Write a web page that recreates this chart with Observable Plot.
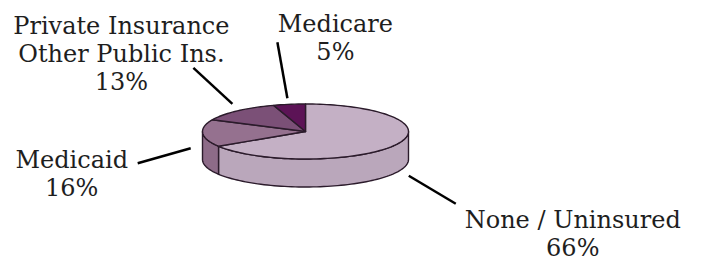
<!DOCTYPE html>
<html><head><meta charset="utf-8">
<script src="https://cdn.jsdelivr.net/npm/d3@7"></script>
<script src="https://cdn.jsdelivr.net/npm/@observablehq/plot@0.6"></script>
<style>
body{margin:0;background:#fff;}
#chart svg{display:block;}
</style>
</head><body><div id="chart"></div>
<script>
// ---- data ----
const categories = ["None / Uninsured", "Medicaid", "Private Insurance\nOther Public Ins.", "Medicare"];
const values = [66, 16, 13, 5];
const valueLabels = ["66%", "16%", "13%", "5%"];

// ---- style / layout (kept separate from data) ----
const topColors = ["#c4b0c5", "#95718f", "#7b5077", "#5c1356"];
const W = 702, H = 263;
const pie = {cx: 305, cy: 131, rx: 103, ry: 27.5, depth: 28};
// leader offsets relative to the rim point at each slice's mid angle: [from, to, label]
const leaderLayout = [
  {from: [13, 31], to: [60, 59], label: [177, 111]},
  {from: [-12, 15], to: [-65, 30], label: [-131, 63]},
  {from: [-5, -7], to: [-44, -43], label: [-116, -21]},
  {from: [-2, -6], to: [-12, -62], label: [46, -44]}
];

// ---- geometry from data ----
const total = d3.sum(values);
let acc = 0;
const slices = categories.map((c, i) => {
  const a0 = acc / total * 2 * Math.PI;
  acc += values[i];
  const a1 = acc / total * 2 * Math.PI;
  return {c, i, a0, a1};
});
const px = a => pie.cx + pie.rx * Math.sin(a);
const py = a => pie.cy - pie.ry * Math.cos(a);

function arc(a0, a1, dy = 0) {
  const n = Math.max(2, Math.ceil((a1 - a0) / (Math.PI / 90)));
  return d3.range(n + 1).map(k => {
    const a = a0 + (a1 - a0) * k / n;
    return [px(a), py(a) + dy];
  });
}

const topPts = [];
slices.forEach(s => {
  const pts = [[pie.cx, pie.cy], ...arc(s.a0, s.a1)];
  pts.forEach(([x, y]) => topPts.push({x, y, key: s.c}));
});

const sidePts = [];
slices.forEach(s => {
  const s0 = Math.max(s.a0, Math.PI / 2), s1 = Math.min(s.a1, 3 * Math.PI / 2);
  if (s0 >= s1) return;
  const pts = [...arc(s0, s1), ...arc(s0, s1, pie.depth).reverse()];
  const col = d3.color(topColors[s.i]).darker(0.15).formatHex();
  pts.forEach(([x, y]) => sidePts.push({x, y, key: s.c, fill: col}));
});

const leaders = slices.map(s => {
  const m = (s.a0 + s.a1) / 2;
  const rx0 = px(m), ry0 = py(m);
  const L = leaderLayout[s.i];
  return {
    x1: rx0 + L.from[0], y1: ry0 + L.from[1],
    x2: rx0 + L.to[0], y2: ry0 + L.to[1],
    lx: rx0 + L.label[0], ly: ry0 + L.label[1],
    text: s.c + "\n" + valueLabels[s.i]
  };
});

const chart = Plot.plot({
  width: W, height: H,
  margin: 0,
  x: {domain: [0, W], range: [0, W], axis: null},
  y: {domain: [0, H], range: [0, H], axis: null},
  color: {domain: categories, range: topColors},
  style: {background: "#fff", fontFamily: "DejaVu Serif"},
  marks: [
    Plot.line(sidePts, {x: "x", y: "y", z: "key", fill: "fill", stroke: "#2b1b2b", strokeWidth: 1.4, curve: "linear-closed", strokeLinejoin: "round"}),
    Plot.line(topPts, {x: "x", y: "y", z: "key", fill: "key", stroke: "#2b1b2b", strokeWidth: 1.4, curve: "linear-closed", strokeLinejoin: "round"}),
    Plot.link(leaders, {x1: "x1", y1: "y1", x2: "x2", y2: "y2", stroke: "#000", strokeWidth: 2.5}),
    Plot.text(leaders, {x: "lx", y: "ly", text: "text", textAnchor: "middle", lineAnchor: "bottom", lineHeight: 1.17, fontSize: 24, fontFamily: "DejaVu Serif", fill: "#1e1e1e"})
  ]
});
document.getElementById("chart").appendChild(chart);
</script>
</body></html>
